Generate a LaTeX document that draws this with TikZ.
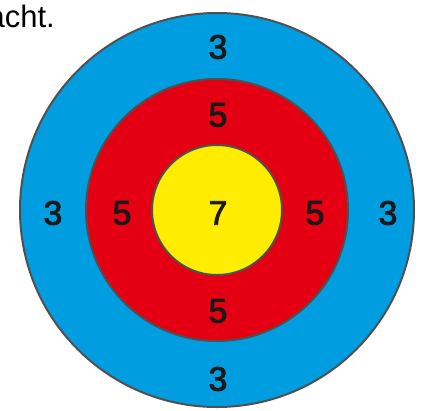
\documentclass[tikz,border=0pt]{standalone}
\usepackage{fontspec}
\setmainfont{Liberation Sans}
\newfontfamily\scorefont[FakeBold=2.5]{Liberation Sans}
\usetikzlibrary{positioning, calc}
\definecolor{ringblue}{RGB}{0, 158, 224}
\definecolor{ringred}{RGB}{228, 0, 18}
\definecolor{ringyellow}{RGB}{255, 237, 0}
\definecolor{ringedge}{RGB}{80, 80, 80}

\tikzset{
  ring/.style={circle, draw=ringedge, line width=2pt, inner sep=0pt},
  score/.style={font=\scorefont\fontsize{34}{34}\selectfont, text=black!90, inner sep=0pt}
}

\begin{document}
\begin{tikzpicture}[x=1pt, y=-1pt]
  \useasboundingbox (0,0) rectangle (430,410);
  \clip (0,0) rectangle (430,410);

  % caption fragment
  \node[anchor=base east, font=\fontsize{31}{31}\selectfont, inner sep=0pt] (caption) at (55,27) {acht.};

  % rings
  \coordinate (c) at (217,210);
  \node[ring, fill=ringblue, minimum size=394pt] (outer) at (c) {};
  \node[ring, fill=ringred, minimum size=262pt] (middle) at (c) {};
  \node[ring, fill=ringyellow, minimum size=130pt] (inner) at (c) {};

  % scores
  \coordinate (s) at (218,213);
  \node[score] (seven) at (s) {7};
  \node[score] (fiveN) at ($(s)+(0,-98)$) {5};
  \node[score] (fiveS) at ($(s)+(0,98)$) {5};
  \node[score] (fiveW) at ($(s)+(-96,0)$) {5};
  \node[score] (fiveE) at ($(s)+(97,0)$) {5};
  \node[score] (threeN) at ($(s)+(0,-166)$) {3};
  \node[score] (threeS) at ($(s)+(0,166)$) {3};
  \node[score] (threeW) at ($(s)+(-165,0)$) {3};
  \node[score] (threeE) at ($(s)+(170,0)$) {3};
\end{tikzpicture}
\end{document}
